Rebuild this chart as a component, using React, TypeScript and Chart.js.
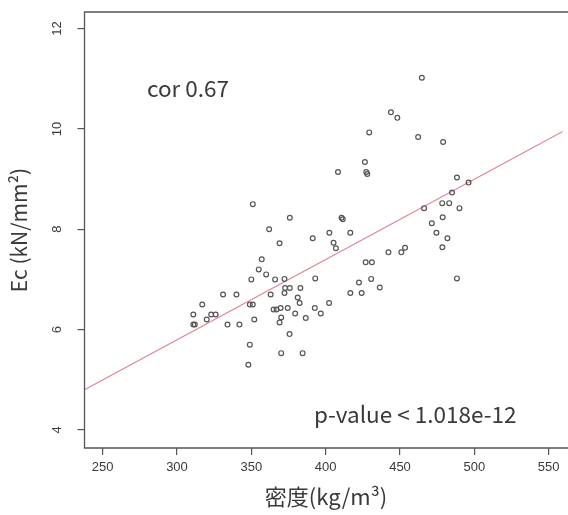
import React, { useEffect, useRef } from "react";
import { Chart, registerables } from "chart.js";

Chart.register(...registerables);

// Density (kg/m3)
const density = [
  464.7, 443.9, 448.2, 429.3, 462.2, 479.0, 426.4, 408.3, 427.3, 428.0,
  488.3, 496.1, 485.0, 466.2, 478.4, 483.1, 490.0, 375.9, 410.7, 411.5,
  478.7, 471.4, 474.5, 481.9, 478.5, 369.0, 391.3, 402.5, 416.6, 405.3,
  406.9, 442.2, 450.9, 453.4, 426.9, 431.1, 488.3, 372.3, 393.0, 422.4,
  430.6, 436.4, 372.7, 375.9, 383.0, 416.6, 424.2, 372.3, 381.2, 382.5,
  402.3, 369.7, 374.5, 392.7, 396.7, 379.5, 386.6, 370.1, 369.0, 375.7,
  370.1, 384.5,
  311, 311, 312, 317, 320, 323, 326, 331, 334, 340,
  342, 348, 349, 349, 350, 351, 351, 352, 355, 357,
  360, 362, 363, 365, 366, 367
];
// Ec (kN/mm2)
const ec = [
  11.02, 10.33, 10.22, 9.93, 9.84, 9.74, 9.34, 9.14, 9.14, 9.1,
  9.03, 8.93, 8.73, 8.42, 8.52, 8.52, 8.42, 8.23, 8.23, 8.2,
  8.24, 8.12, 7.93, 7.82, 7.64, 7.72, 7.82, 7.93, 7.93, 7.73,
  7.62, 7.54, 7.54, 7.63, 7.34, 7.34, 7.02, 7.01, 7.02, 6.94,
  7.01, 6.84, 6.83, 6.83, 6.83, 6.73, 6.73, 6.73, 6.64, 6.53,
  6.53, 6.43, 6.43, 6.43, 6.32, 6.32, 6.23, 6.24, 6.14, 5.91,
  5.53, 5.53,
  6.3, 6.1, 6.1, 6.5, 6.2, 6.3, 6.3, 6.7, 6.1, 6.7,
  6.1, 5.3, 5.7, 6.5, 7.0, 6.5, 8.5, 6.2, 7.2, 7.4,
  7.1, 8.0, 6.7, 6.4, 7.0, 6.4
];

// Regression line end points
const fitX = [237.8, 559.5];
const fitY = [4.8, 9.95];

const xTickValues = [250, 300, 350, 400, 450, 500, 550];
const yTickValues = [4, 6, 8, 10, 12];
const xRange = [237.8, 559.5];
const yRange = [3.64, 12.33];

const corText = "cor 0.67";
const pText = "p-value < 1.018e-12";
const xTitle = "密度(kg/m³)";
const yTitle = "Ec (kN/mm²)";

const AXIS = "#555555";
const TEXT = "#3a3a3a";
const JP = '"Noto Sans CJK JP", "Noto Sans", sans-serif';
const SANS = '"Liberation Sans", Arial, sans-serif';

const decorPlugin = {
  id: "decor",
  afterDraw(chart: any) {
    const { ctx, chartArea, scales } = chart;
    const { left, top, bottom } = chartArea;
    ctx.save();
    ctx.strokeStyle = AXIS;
    ctx.lineWidth = 1.3;
    ctx.beginPath();
    ctx.moveTo(chart.width + 5, top);
    ctx.lineTo(left, top);
    ctx.lineTo(left, bottom);
    ctx.lineTo(chart.width + 5, bottom);
    ctx.stroke();

    // y tick labels (rotated, R style)
    ctx.fillStyle = TEXT;
    ctx.font = `13px ${SANS}`;
    ctx.textAlign = "center";
    ctx.textBaseline = "middle";
    for (const v of yTickValues) {
      const y = scales.y.getPixelForValue(v);
      ctx.save();
      ctx.translate(57, y);
      ctx.rotate(-Math.PI / 2);
      ctx.fillText(String(v), 0, 0);
      ctx.restore();
    }

    // y title
    ctx.save();
    ctx.font = `21px ${JP}`;
    ctx.translate(19, (top + bottom) / 2);
    ctx.rotate(-Math.PI / 2);
    ctx.fillText(yTitle, 0, 0);
    ctx.restore();

    // x title
    ctx.font = `22px ${JP}`;
    ctx.fillText(xTitle, 326, 497);

    // annotations
    ctx.textAlign = "left";
    ctx.font = `22.5px ${JP}`;
    ctx.fillText(corText, 147, 88);
    ctx.fillText(pText, 314, 414);
    ctx.restore();
  },
};

export default function App() {
  const ref = useRef<HTMLCanvasElement | null>(null);
  useEffect(() => {
    if (!ref.current) return;
    const points = density.map((d, i) => ({ x: d, y: ec[i] }));
    const line = fitX.map((x, i) => ({ x, y: fitY[i] }));
    const chart = new Chart(ref.current, {
      type: "scatter",
      data: {
        datasets: [
          {
            type: "line",
            data: line,
            borderColor: "#e08592",
            borderWidth: 1.2,
            pointRadius: 0,
            order: 2,
          } as any,
          {
            type: "scatter",
            data: points,
            pointStyle: "circle",
            pointRadius: 2.4,
            borderColor: "#555555",
            backgroundColor: "rgba(255,255,255,0)",
            borderWidth: 1.2,
            order: 1,
          },
        ],
      },
      options: {
        animation: false,
        responsive: false,
        devicePixelRatio: 1,
        layout: { padding: { top: 12, right: 0, left: 0, bottom: 0 } },
        plugins: {
          legend: { display: false },
          tooltip: { enabled: false },
        },
        scales: {
          x: {
            type: "linear",
            min: xRange[0],
            max: xRange[1],
            afterBuildTicks: (s: any) => {
              s.ticks = xTickValues.map((v) => ({ value: v }));
            },
            afterFit: (s: any) => {
              s.height = 67;
              s.paddingRight = 0;
              s.paddingLeft = 0;
            },
            border: { display: false },
            grid: {
              display: true,
              drawOnChartArea: false,
              drawTicks: true,
              tickLength: 7,
              color: AXIS,
              lineWidth: 1.2,
            },
            ticks: {
              autoSkip: false,
              maxRotation: 0,
              padding: 5,
              color: TEXT,
              font: { family: SANS, size: 13 },
            },
          },
          y: {
            type: "linear",
            min: yRange[0],
            max: yRange[1],
            afterBuildTicks: (s: any) => {
              s.ticks = yTickValues.map((v) => ({ value: v }));
            },
            afterFit: (s: any) => {
              s.width = 84.5;
              s.paddingTop = 0;
              s.paddingBottom = 0;
            },
            border: { display: false },
            grid: {
              display: true,
              drawOnChartArea: false,
              drawTicks: true,
              tickLength: 7,
              color: AXIS,
              lineWidth: 1.2,
            },
            ticks: { display: false },
          },
        },
      },
      plugins: [decorPlugin],
    });
    return () => chart.destroy();
  }, []);
  return (
    <div
      style={{
        position: "fixed",
        left: 0,
        top: 0,
        width: 568,
        height: 515,
        background: "#fff",
      }}
    >
      <canvas ref={ref} width={568} height={515} style={{ display: "block" }} />
    </div>
  );
}
